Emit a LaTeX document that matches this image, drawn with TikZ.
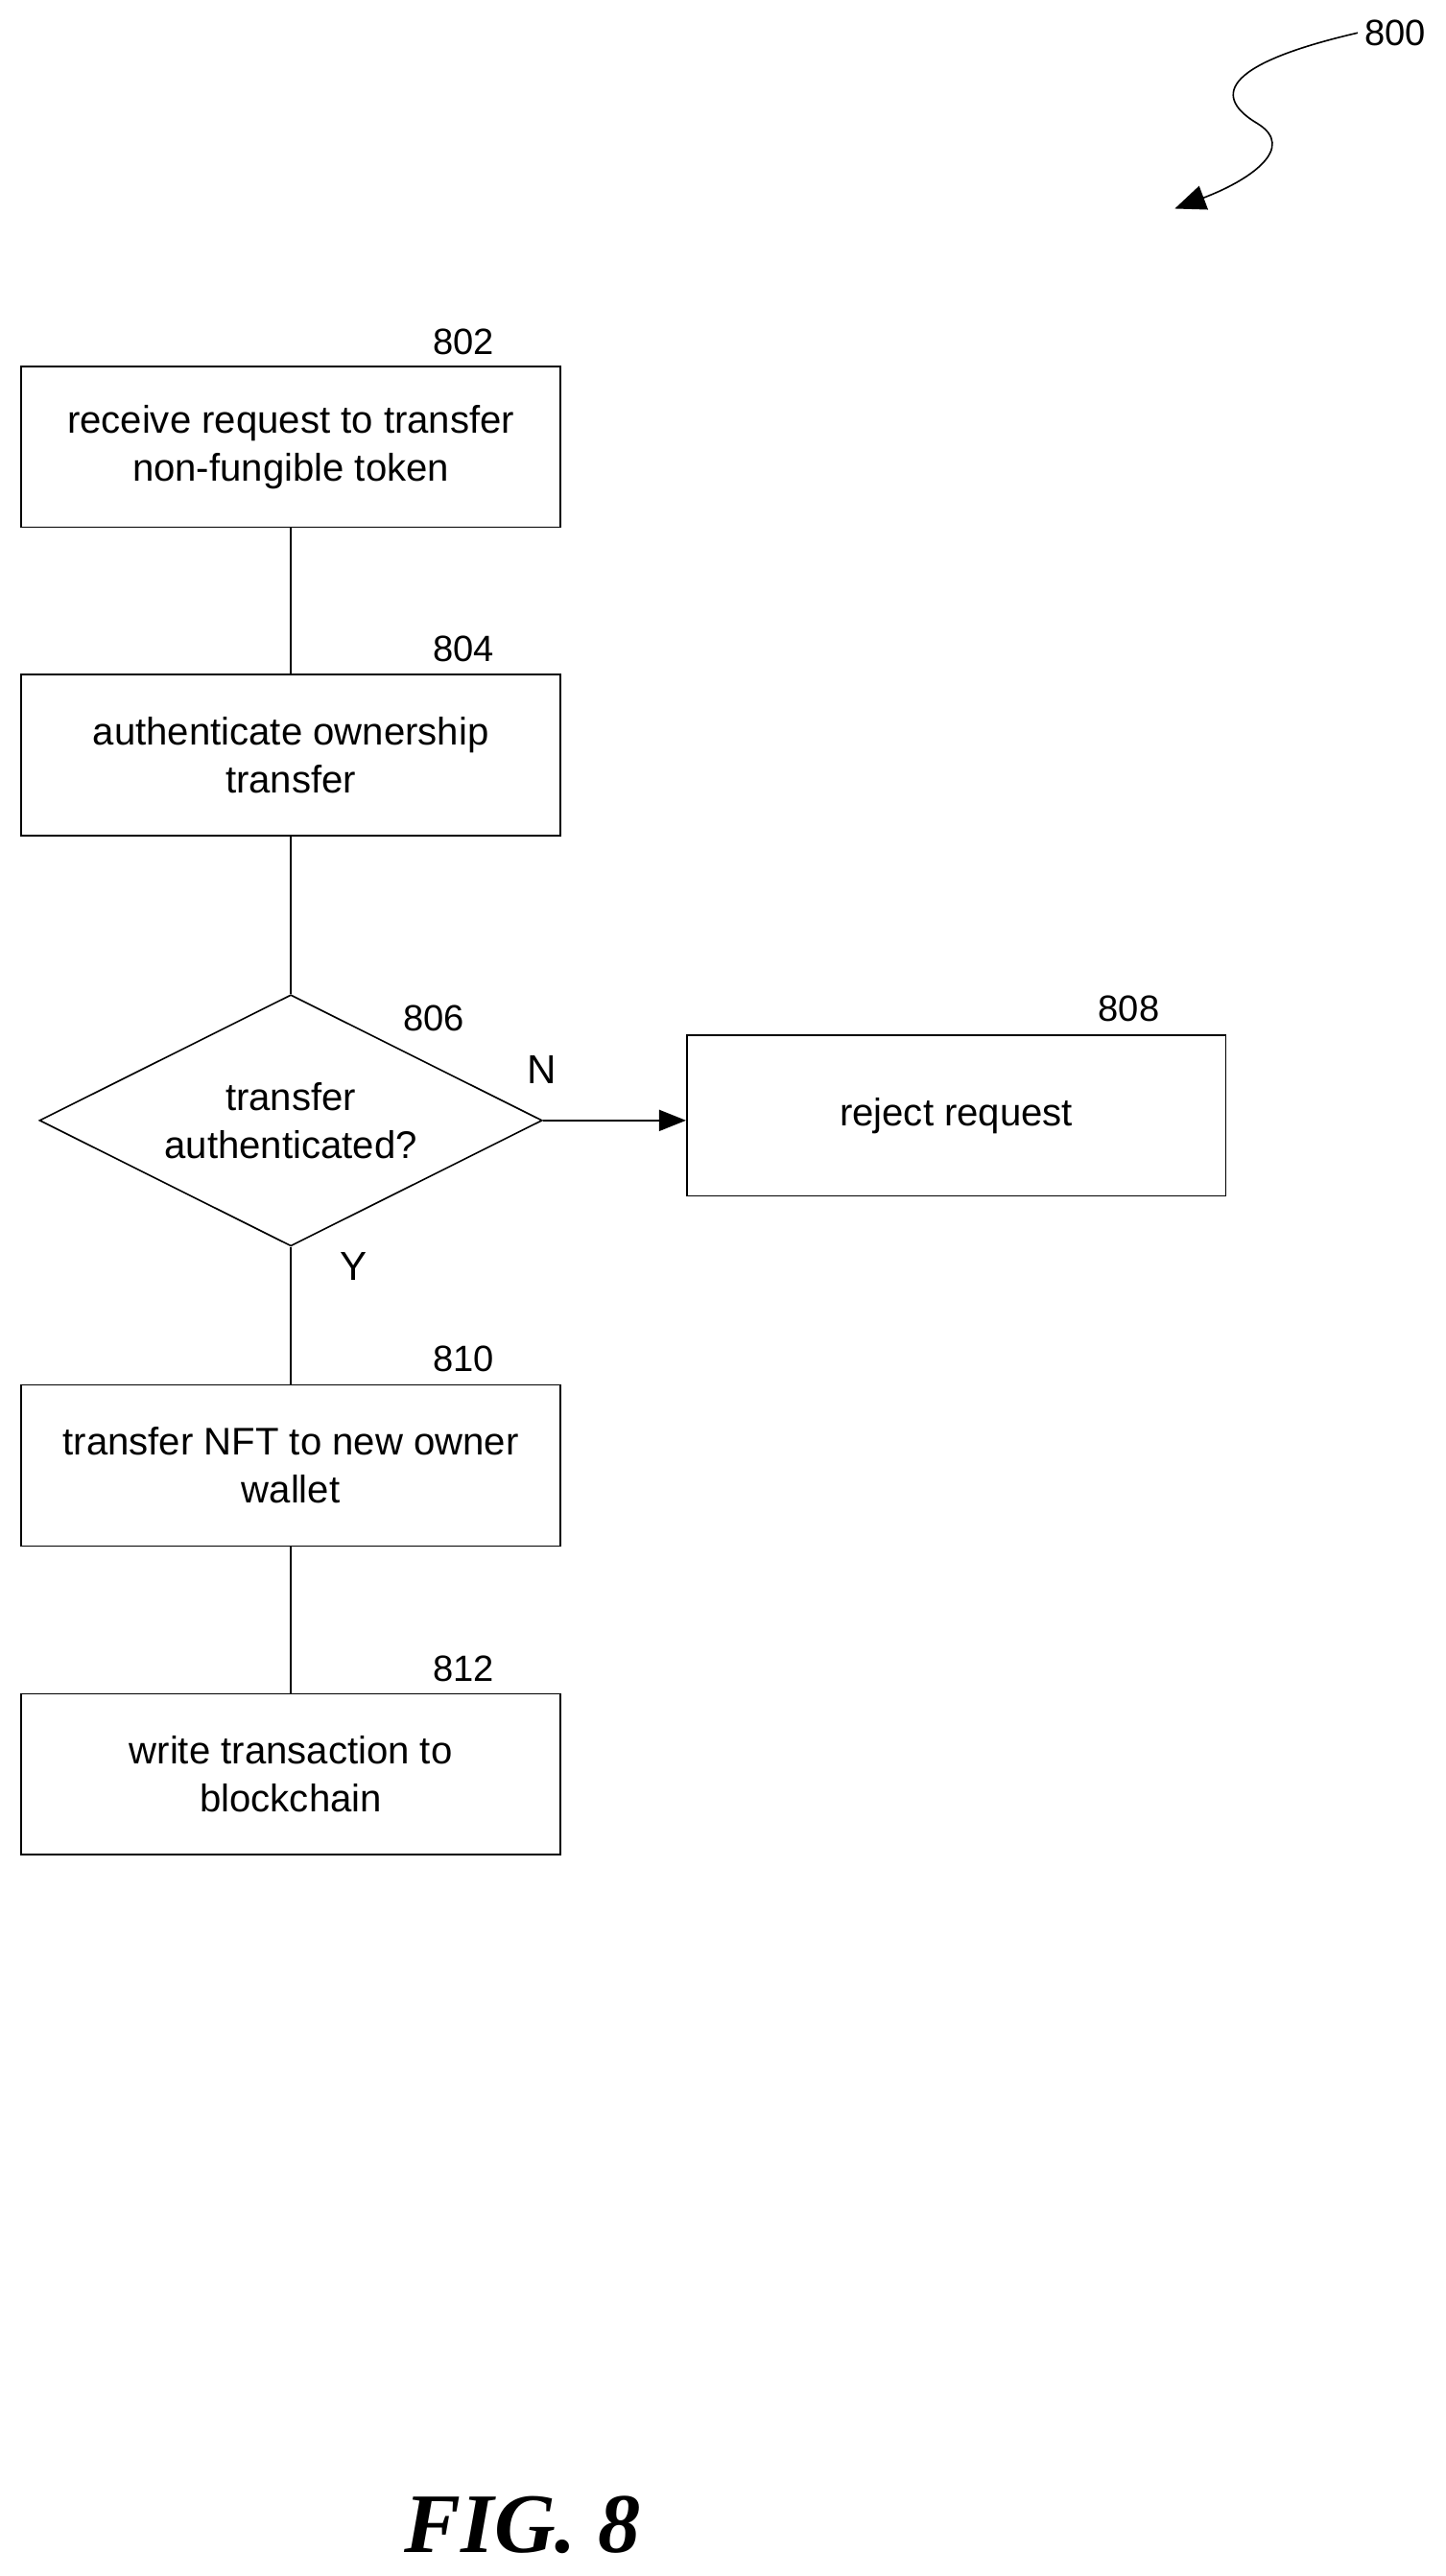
\documentclass[tikz,border=0pt]{standalone}
\usepackage{fontspec}
\setmainfont{Liberation Sans}
\newfontfamily\figfont{Liberation Serif}
\usetikzlibrary{shapes.geometric,arrows.meta,positioning}
\tikzstyle{stepbox}=[draw,thick,minimum width=328*0.03cm,minimum height=98*0.03cm,align=center,font=\fontsize{20}{25}\selectfont,inner sep=0pt]
\tikzstyle{ref}=[font=\fontsize{19}{23}\selectfont]
\begin{document}
\begin{tikzpicture}[x=0.03cm,y=-0.03cm]
        \useasboundingbox (0,0) rectangle (880,1568);
        \tikzstyle{every edge}=[-,thick,draw]
        % Boxes:
        \node (b802) [stepbox] at (177,272) {receive request to transfer\\non-fungible token};
        \node (b804) [stepbox] at (177,459.5) {authenticate ownership\\transfer};
        \node (d806) [draw,thick,diamond,aspect=2,minimum width=306*0.03cm,minimum height=153*0.03cm,inner sep=0pt,align=center,font=\fontsize{20}{25}\selectfont] at (177,682) {transfer\\authenticated?};
        \node (b808) [stepbox] at (582,679) {reject request};
        \node (b810) [stepbox] at (177,892) {transfer NFT to new owner\\wallet};
        \node (b812) [stepbox] at (177,1080) {write transaction to\\blockchain};
        % Reference numerals:
        \node (n802) [ref] at (282,208) {802};
        \node (n804) [ref] at (282,395) {804};
        \node (n806) [ref] at (264,620) {806};
        \node (n808) [ref] at (687,614) {808};
        \node (n810) [ref] at (282,827) {810};
        \node (n812) [ref] at (282,1016) {812};
        \node (n800) [ref] at (849,20) {800};
        \node (lN) [ref,font=\fontsize{21}{25}\selectfont] at (330,651) {N};
        \node (lY) [ref,font=\fontsize{21}{25}\selectfont] at (215,771) {Y};
        \node (fig) [font=\figfont\bfseries\itshape\fontsize{44}{52}\selectfont] at (318,1537) {FIG. 8};
        \coordinate (c800) at (715,127);

        \path
        (b802) edge (b804)
        (b804) edge (d806)
        (d806) edge (b810)
        (b810) edge (b812);
        \draw[thick,-{Triangle[length=14pt,width=11pt]}] (d806.east) -- (d806.east -| b808.west);
        \draw[thick,-{Triangle[length=16pt,width=13pt]}] (n800.west) .. controls (740,40) and (740,60) .. (765,75) .. controls (790,90) and (760,110) .. (c800);
\end{tikzpicture}
\end{document}
